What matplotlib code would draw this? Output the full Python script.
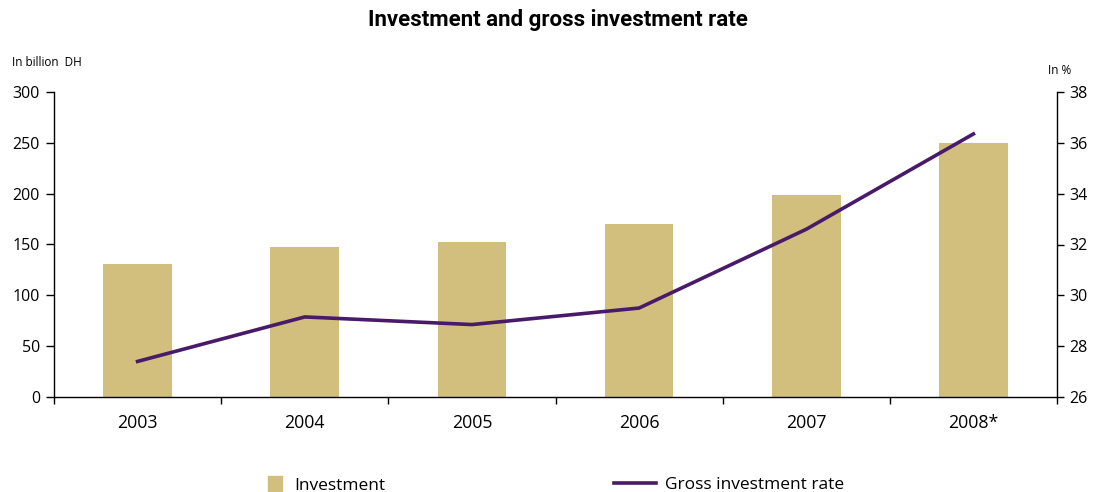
import numpy as np
import matplotlib
matplotlib.use('Agg')
import matplotlib.pyplot as plt
from matplotlib.patches import Patch
from matplotlib.lines import Line2D

plt.rcParams['font.family'] = ['Open Sans', 'DejaVu Sans']

# Data
years = ['2003', '2004', '2005', '2006', '2007', '2008*']
investment = [131, 147.5, 152.5, 170, 198.5, 250]        # billion DH
gross_rate = [27.4, 29.15, 28.85, 29.5, 32.6, 36.35]      # %

bar_color = '#D2BE7D'
line_color = '#4A1A6A'

fig = plt.figure(figsize=(10.94, 4.92), dpi=100)
ax = fig.add_axes([54 / 1094, 1 - 397 / 492, (1057 - 54) / 1094, (397 - 92) / 492])
ax2 = ax.twinx()

x = np.arange(len(years))
ax.bar(x, investment, width=0.41, color=bar_color, zorder=2)
ax2.plot(x, gross_rate, color=line_color, linewidth=2.6, zorder=3)

ax.set_xlim(-0.5, len(years) - 0.5)
ax.set_ylim(0, 300)
ax.set_yticks(np.arange(0, 301, 50))
ax2.set_ylim(26, 38)
ax2.set_yticks(np.arange(26, 39, 2))

# category labels centred, ticks on the boundaries
ax.set_xticks(np.arange(-0.5, len(years)), minor=False)
ax.set_xticklabels([])
ax.set_xticks(x, minor=True)
ax.set_xticklabels(years, minor=True, fontsize=12.8)
ax.tick_params(axis='x', which='minor', length=0, pad=12)
ax.tick_params(axis='x', which='major', length=5, width=1, direction='out')
ax.tick_params(axis='y', length=6, width=1, labelsize=11.5, pad=4)
ax2.tick_params(axis='y', length=5, width=1, labelsize=11.5, pad=4)

for a in (ax, ax2):
    a.spines['top'].set_visible(False)
    for s in a.spines.values():
        s.set_linewidth(1)
ax.spines['right'].set_visible(False)
ax2.spines['left'].set_visible(False)
ax2.spines['bottom'].set_visible(False)
ax.set_zorder(ax2.get_zorder() - 1)
ax2.patch.set_visible(False)

fig.text(558 / 1094, 1 - 20 / 492, 'Investment and gross investment rate', ha='center', va='center',
         fontsize=16, fontweight='bold', family=['Roboto', 'DejaVu Sans'])
fig.text(12 / 1094, 1 - 62 / 492, 'In billion  DH', ha='left', va='center', fontsize=8.5)
fig.text(1048 / 1094, 1 - 70 / 492, 'In %', ha='left', va='center', fontsize=8.5)

# legend
fig.legend(handles=[Patch(color=bar_color, label='Investment')],
           loc='center left', bbox_to_anchor=(252 / 1094, 1 - 485 / 492),
           frameon=False, fontsize=12.5, handlelength=0.8, handleheight=1.05,
           handletextpad=0.75)
fig.legend(handles=[Line2D([], [], color=line_color, linewidth=2.6, label='Gross investment rate')],
           loc='center left', bbox_to_anchor=(598 / 1094, 1 - 485 / 492),
           frameon=False, fontsize=12.5, handlelength=2.45, handletextpad=0.5)

fig.savefig('out.png', dpi=100)
